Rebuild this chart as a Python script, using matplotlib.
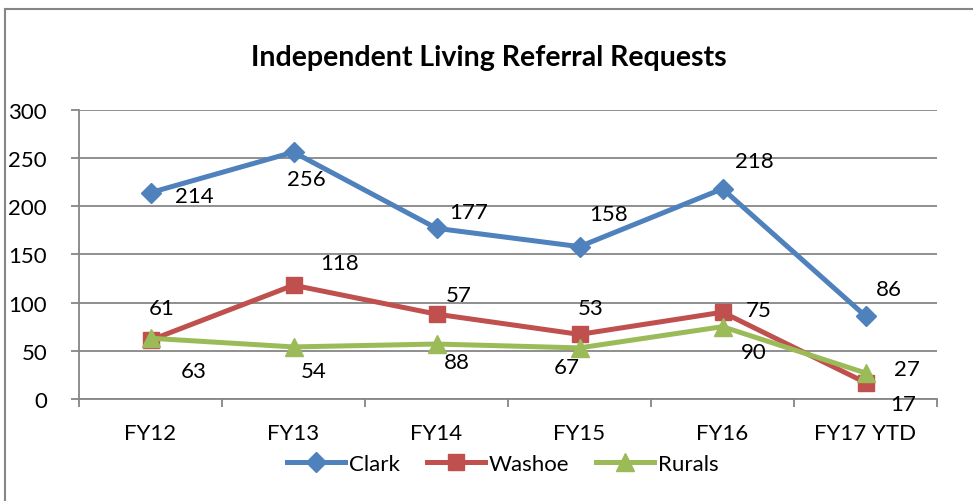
import matplotlib.pyplot as plt
from matplotlib.lines import Line2D
import numpy as np

plt.rcParams['font.family'] = ['Lato', 'DejaVu Sans']

categories = ['FY12', 'FY13', 'FY14', 'FY15', 'FY16', 'FY17 YTD']
clark = [214, 256, 177, 158, 218, 86]
washoe = [61, 118, 88, 67, 90, 17]
rurals = [63, 54, 57, 53, 75, 27]

# desplazamiento de cada etiqueta (px) respecto a su punto, como en la imagen
off_clark = [(44, -3), (13, -27), (32, 16), (29, 33), (32, 28), (23, 27)]
off_washoe = [(11, 32), (46, 22), (20, -48), (-13, -33), (31, -40), (38, -21)]
off_rurals = [(43, -33), (20, -24), (22, 49), (11, 40), (36, 17), (41, 4)]

fig = plt.figure(figsize=(9.73, 5.02), dpi=100)
ax = fig.add_axes([79 / 973, 1 - 400 / 502, (937 - 79) / 973, (400 - 110.7) / 502])

x = np.arange(len(categories)) + 0.5
series = [
    ('Clark', clark, '#4F81BD', 'D', 10, off_clark),
    ('Washoe', washoe, '#C0504D', 's', 12, off_washoe),
    ('Rurals', rurals, '#9BBB59', '^', 13, off_rurals),
]
for name, vals, col, mk, ms, offs in series:
    ax.plot(x, vals, color=col, lw=3.6, marker=mk, markersize=ms, label=name)
    for xi, v, (dx, dy) in zip(x, vals, offs):
        ax.annotate(str(v), (xi, v), xytext=(dx * 0.72, dy * 0.72), textcoords='offset points',
                    ha='center', va='center', fontsize=16, color='black')

ax.set_xlim(0, len(categories))
ax.set_ylim(0, 300)
ax.set_yticks(range(0, 301, 50))
ax.yaxis.grid(True, color='#868686', lw=1.3)
ax.set_axisbelow(True)
ax.set_xticks(range(len(categories) + 1))
ax.set_xticklabels([])
ax.set_xticks(x, minor=True)
ax.set_xticklabels(categories, minor=True)
ax.tick_params(axis='x', which='minor', length=0, pad=17, labelsize=16)
ax.tick_params(axis='x', which='major', length=6, color='#868686', width=1.3)
ax.tick_params(axis='y', length=6, color='#868686', width=1.3, pad=17, labelsize=16)
for s in ['top', 'right']:
    ax.spines[s].set_visible(False)
for s in ['left', 'bottom']:
    ax.spines[s].set_color('#868686')
    ax.spines[s].set_linewidth(1.3)

fig.text(489 / 973, 1 - 58 / 502, 'Independent Living Referral Requests', ha='center', va='center',
         fontsize=20.5, fontweight='bold')
ax.legend(loc='center', bbox_to_anchor=(503 / 973, 1 - 465 / 502), bbox_transform=fig.transFigure,
          ncol=3, frameon=False, fontsize=16, handlelength=2.6, handletextpad=0.2, columnspacing=1.2)

# marco del gráfico
fig.add_artist(Line2D([5 / 973, 1], [1 - 10 / 502] * 2, color='#868686', lw=1.5))
fig.add_artist(Line2D([5 / 973] * 2, [0, 1 - 10 / 502], color='#868686', lw=1.5))

fig.savefig('out.png', dpi=100)
